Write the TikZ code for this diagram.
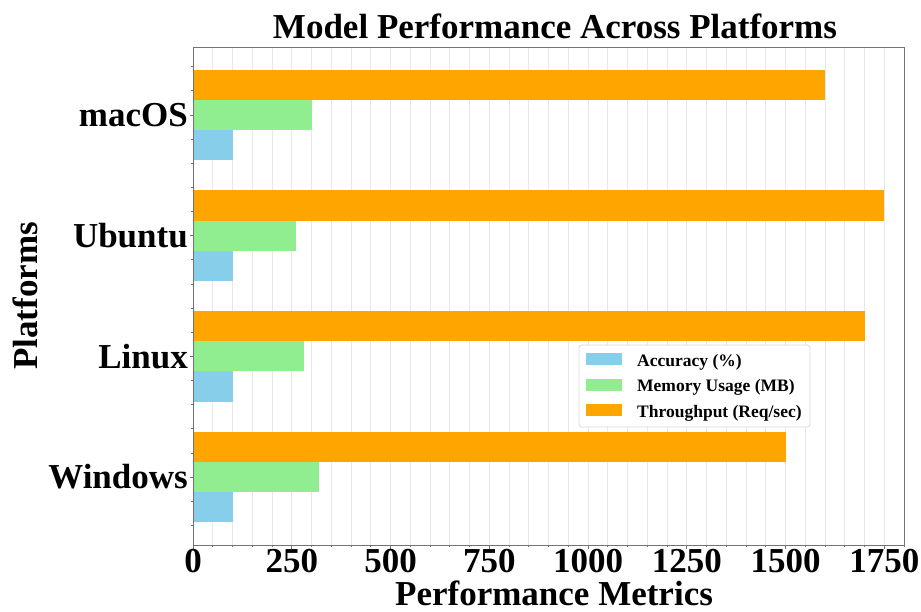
\documentclass[tikz,border=0pt]{standalone}
\usepackage{fontspec}
\setmainfont{Liberation Serif}
\definecolor{accblue}{HTML}{87CEEB}
\definecolor{memgreen}{HTML}{90EE90}
\definecolor{throrange}{HTML}{FFA500}
\begin{document}
\begin{tikzpicture}[x=1pt,y=-1pt,
  gridline/.style={draw=black!9,line width=0.8pt},
  spine/.style={draw=black!55,line width=0.9pt},
  tickmark/.style={draw=black!55,line width=0.8pt},
  big/.style={font=\bfseries\fontsize{35}{40}\selectfont,inner sep=0pt},
  lg/.style={font=\bfseries\fontsize{17.5}{20}\selectfont,anchor=base west,inner sep=0pt},
  patch/.style={minimum width=36pt,minimum height=12pt,inner sep=0pt,draw=none}]
\useasboundingbox (0,0) rectangle (921,611);

\begin{scope}[shift={(193pt,-477.1pt)},x=0.395pt,y=120.7pt]
\coordinate (sw) at (0,-0.5625);
\coordinate (ne) at (1802,3.5625);
% grid
\foreach \v in {50,100,...,1800} \draw[gridline] (\v,-0.5625) -- (\v,3.5625);
% bars: position / accuracy / memory / throughput
\foreach \yy/\acc/\mem/\thr in {3/100/300/1600,2/100/260/1750,1/100/280/1700,0/100/320/1500}{
  \fill[accblue] (0,\yy-0.375) rectangle (\acc,\yy-0.125);
  \fill[memgreen] (0,\yy-0.125) rectangle (\mem,\yy+0.125);
  \fill[throrange] (0,\yy+0.125) rectangle (\thr,\yy+0.375);
}
\draw[spine] (sw) rectangle (ne);
% ticks
\foreach \v in {50,100,...,1800} \draw[tickmark] (\v,-0.5625) -- ++(0pt,-2pt);
\foreach \v in {0,250,...,1750}{
  \draw[tickmark] (\v,-0.5625) -- ++(0pt,-3.5pt);
  \node[big,anchor=north] (xt\v) at ([yshift=-4pt]\v,-0.5625) {\v};
}
\foreach \t in {-0.4,-0.2,...,3.41} \draw[tickmark] (0,\t) -- ++(-2pt,0pt);
\foreach \yy/\name in {0/Windows,1/Linux,2/Ubuntu,3/macOS}{
  \draw[tickmark] (0,\yy) -- ++(-3.5pt,0pt);
  \node[big,anchor=east] (yt\yy) at ([xshift=-5pt]0,\yy) {\name};
}
\end{scope}

% titles
\node[big,anchor=base] (title) at (555,38) {Model Performance Across Platforms};
\node[big,anchor=base] (xlabel) at (554,605) {Performance Metrics};
\node[big,rotate=90] (ylabel) at (25,296) {Platforms};

% legend
\draw[draw=black!15,fill=white,rounded corners=3pt,line width=0.8pt] (579,345) rectangle (810,427);
\node[patch,fill=accblue] (pacc) at (604,359) {};
\node[patch,fill=memgreen] (pmem) at (604,384.5) {};
\node[patch,fill=throrange] (pthr) at (604,410) {};
\node[lg] (lacc) at (637,366) {Accuracy (\%)};
\node[lg] (lmem) at (637,391.5) {Memory Usage (MB)};
\node[lg] (lthr) at (637,417) {Throughput (Req/sec)};
\end{tikzpicture}
\end{document}
